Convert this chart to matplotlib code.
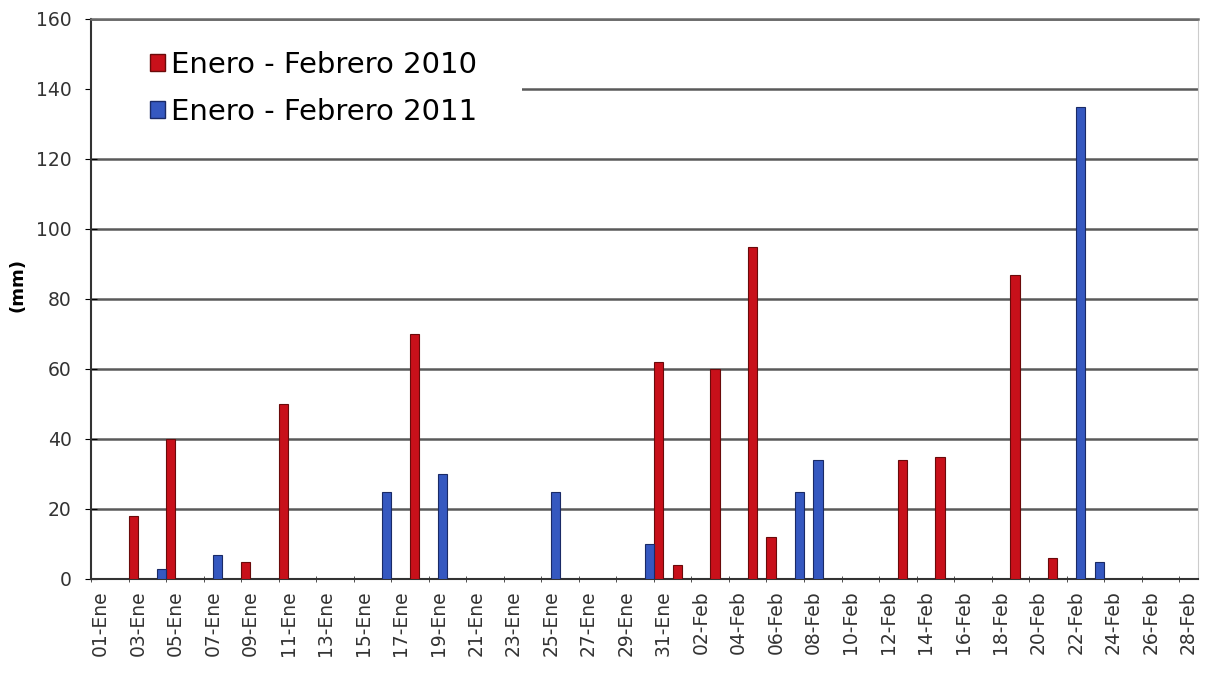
import numpy as np
import matplotlib.pyplot as plt
from matplotlib.patches import Rectangle, Patch

# categorias: un dia por columna, 01-Ene .. 28-Feb
dias = [f'{d:02d}-Ene' for d in range(1, 32)] + [f'{d:02d}-Feb' for d in range(1, 29)]

# dias con lluvia (mm)
dias_2010 = ['03-Ene', '05-Ene', '09-Ene', '11-Ene', '18-Ene', '31-Ene', '01-Feb',
             '03-Feb', '05-Feb', '06-Feb', '13-Feb', '15-Feb', '19-Feb', '21-Feb']
mm_2010 = [18, 40, 5, 50, 70, 62, 4, 60, 95, 12, 34, 35, 87, 6]

dias_2011 = ['04-Ene', '07-Ene', '16-Ene', '19-Ene', '25-Ene', '30-Ene',
             '07-Feb', '08-Feb', '22-Feb', '23-Feb']
mm_2011 = [3, 7, 25, 30, 25, 10, 25, 34, 135, 5]

etiquetas = ['Enero - Febrero 2010', 'Enero - Febrero 2011']
rojo, rojo_borde = '#C8101A', '#6a0a0a'
azul, azul_borde = '#3558C0', '#1a2a66'

serie_2010 = np.zeros(len(dias))
serie_2011 = np.zeros(len(dias))
for d, v in zip(dias_2010, mm_2010):
    serie_2010[dias.index(d)] = v
for d, v in zip(dias_2011, mm_2011):
    serie_2011[dias.index(d)] = v

x = np.arange(len(dias))
w = 0.5

fig = plt.figure(figsize=(12.11, 6.77), dpi=100)
ax = fig.add_axes([91/1211, 98/677, 1107/1211, 560/677])

m1 = serie_2010 > 0
m2 = serie_2011 > 0
ax.bar(x[m1] - w/2, serie_2010[m1], width=w, color=rojo, edgecolor=rojo_borde, linewidth=0.8, zorder=3)
ax.bar(x[m2] + w/2, serie_2011[m2], width=w, color=azul, edgecolor=azul_borde, linewidth=0.8, zorder=3)

ax.set_xlim(-0.5, len(dias) - 0.5)
ax.set_ylim(0, 160)
ax.set_yticks(np.arange(0, 161, 20))
ax.set_axisbelow(True)
ax.yaxis.grid(True, color='#5a5a5a', linewidth=1.8)

# fondo blanco de la leyenda tapa la linea de 140
ax.add_patch(Rectangle((0.0, 0.79), 0.389, 0.175, transform=ax.transAxes,
                       facecolor='white', edgecolor='none', zorder=1))

# etiquetas en el centro de los dias impares, marcas en los limites
ax.set_xticks(x[::2])
ax.set_xticklabels(dias[::2], rotation=90, fontsize=13.5, color='#333333')
ax.set_xticks(x[::2] - 0.5, minor=True)
ax.tick_params(axis='x', which='major', length=0, pad=8)
ax.tick_params(axis='x', which='minor', length=5, direction='inout', color='#333333')
ax.tick_params(axis='y', length=8, direction='inout', labelsize=13.5, labelcolor='#333333', pad=10)

for s in ['left', 'bottom']:
    ax.spines[s].set_color('#333333')
    ax.spines[s].set_linewidth(1.5)
ax.spines['top'].set_color('#6a6a6a')
ax.spines['top'].set_linewidth(1.8)
ax.spines['right'].set_color('#cccccc')

ax.set_ylabel('(mm)', fontsize=13, fontweight='bold', va='center')
ax.yaxis.set_label_coords(-0.066, 0.525)

handles = [Patch(facecolor=rojo, edgecolor=rojo_borde), Patch(facecolor=azul, edgecolor=azul_borde)]
ax.legend(handles, etiquetas, loc='upper left', bbox_to_anchor=(0.03, 0.99), frameon=False,
          fontsize=21, handlelength=0.5, handleheight=0.5, handletextpad=0.2,
          labelspacing=0.65)

fig.savefig('out.png', dpi=100)
